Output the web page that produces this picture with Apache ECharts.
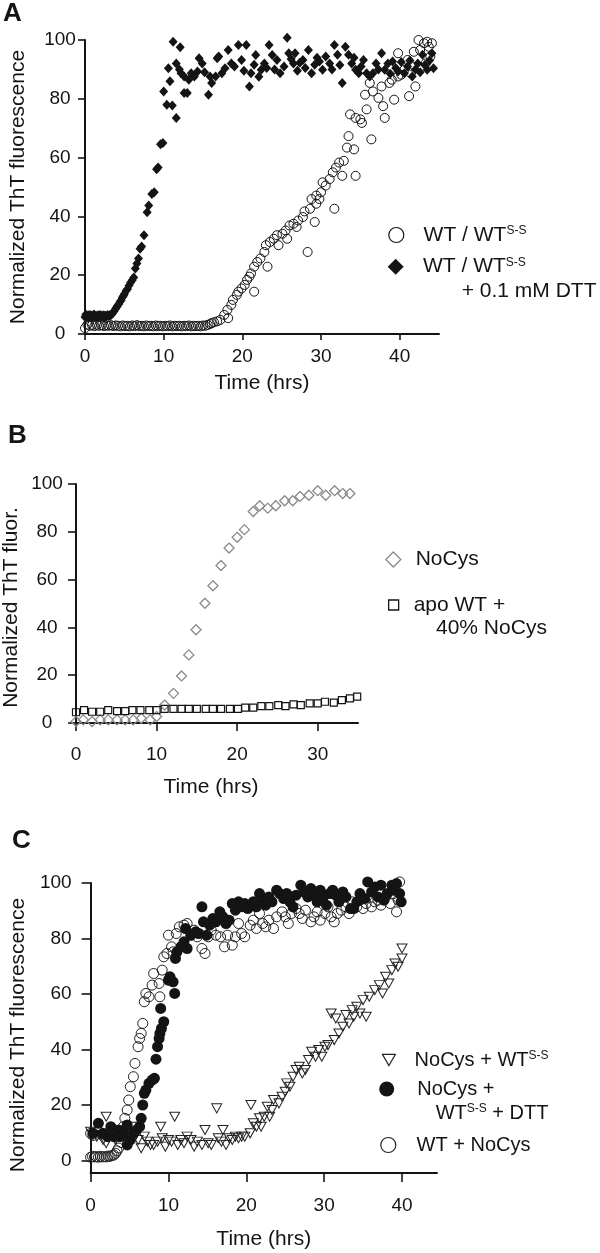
<!DOCTYPE html>
<html><head><meta charset="utf-8">
<script src="https://cdn.jsdelivr.net/npm/echarts@6/dist/echarts.min.js"></script>
<style>html,body{margin:0;padding:0;background:#fff}#c{width:600px;height:1253px}</style>
</head><body><div id="c"></div>
<script>
// ---------- tick labels ----------
const yTicks = [0, 20, 40, 60, 80, 100];
const xTicksA = [0, 10, 20, 30, 40];
const xTicksB = [0, 10, 20, 30];
const xTicksC = [0, 10, 20, 30, 40];

// ---------- Panel A: WT / WT(S-S) + 0.1 mM DTT (filled diamonds) ----------
const aDtt = [
 [0,5.8],[0.1,6.6],[0.25,5.6],[0.4,6.4],[0.5,5.9],[0.65,6.5],[0.75,5.7],[0.9,6.3],[1.0,5.8],[1.15,6.6],
 [1.25,5.9],[1.4,6.2],[1.5,5.7],[1.65,6.4],[1.75,5.9],[1.9,6.5],[2.0,5.8],[2.15,6.3],[2.25,5.9],[2.4,6.4],
 [2.5,5.8],[2.65,6.2],[2.75,6.0],[2.9,6.5],[3.0,6.1],[3.15,6.4],[3.25,6.3],[3.4,6.8],[3.5,7.0],
 [3.7,7.7],[3.85,8.4],[4.0,9.0],[4.1,9.5],[4.3,10.2],[4.45,11.0],[4.6,11.5],[4.75,12.4],[4.9,13.0],[5.0,13.6],
 [5.2,14.6],[5.4,15.3],[5.6,16.5],[5.8,17.5],[6.0,18.3],[6.2,19.2],[6.4,22.3],[6.6,24.0],[6.8,25.7],[7.0,29.0],
 [7.2,29.8],[7.5,33.6],[7.9,41.4],[8.1,43.7],[8.5,47.6],[8.8,48.2],[9.1,56],[9.3,56.6],[9.6,64.5],[9.9,65],
 [10.0,82.5],[10.4,78],[10.6,90.4],[10.8,86],[11.1,77.7],[11.2,99.4],[11.6,73.5],[11.6,92],[12.0,90],[12.1,97.5],
 [12.2,88.7],[12.6,82],[12.6,87.6],[13.0,82],[13.2,86.5],[13.5,88.7],[13.9,87.6],[14.3,89.3],[14.5,93.8],[14.9,92],
 [15.2,89],[15.7,81.4],[15.9,87.6],[16.1,85.4],[16.6,87.6],[16.8,93.8],[17.0,94.4],[17.4,88.7],[17.8,90.4],[18.2,96.6],
 [18.6,92],[19.0,91],[19.5,98.3],[19.9,93.2],[20.2,89.5],[20.5,98.3],[20.9,84.2],[21.1,88.7],[21.5,91.6],[21.7,94.9],
 [22.1,87.5],[22.4,89.9],[22.8,92],[23.1,90.5],[23.4,98.3],[23.8,94.9],[24.1,90],[24.4,93.2],[24.8,88.7],[25.3,91],
 [25.7,100.8],[25.9,95.5],[26.2,93.5],[26.5,92],[26.7,95.5],[27.0,89.5],[27.3,92.3],[27.7,93.2],[28.0,90.5],[28.4,96.6],
 [28.8,88.7],[29.2,91.6],[29.5,94],[29.8,92.7],[30.2,89.9],[30.6,94.4],[31.1,92],[31.4,90],[31.7,98.3],[32.1,95],
 [32.4,91.5],[32.7,85.4],[33.1,97.7],[33.5,95],[33.9,92],[34.2,94],[34.4,89.9],[34.8,88.7],[35.1,91],[35.4,93.2],
 [35.8,88.7],[36.2,87.6],[36.6,88.7],[37.0,92],[37.3,90],[37.7,95.5],[38.1,89.9],[38.5,92],[38.8,88.5],[39.1,92.7],
 [39.5,90.5],[39.8,89.3],[40.2,92.5],[40.6,88.7],[41.0,91],[41.3,93],[41.6,87.6],[42.0,90],[42.3,92],[42.6,89],
 [42.9,95],[43.2,91.5],[43.5,89.9],[43.8,93],[44.1,95.5],[44.3,90.4]
];
// ---------- Panel A: WT / WT(S-S) (open circles) ----------
const aWt = [
 [0,2.0],[0.3,3.2],[0.6,2.8],[0.9,3.0],[1.2,2.7],[1.5,3.1],[1.8,2.8],[2.1,3.0],[2.4,2.7],[2.7,2.9],
 [3.0,2.8],[3.3,3.0],[3.6,2.7],[3.9,2.9],[4.2,2.8],[4.5,2.6],[4.8,2.9],[5.1,2.7],[5.4,2.8],[5.7,2.6],
 [6.0,2.9],[6.3,2.7],[6.6,3.0],[6.9,2.7],[7.2,2.8],[7.5,2.6],[7.8,2.9],[8.1,2.7],[8.4,2.8],[8.7,2.6],
 [9.0,2.9],[9.3,2.7],[9.6,2.8],[9.9,2.6],[10.2,2.8],[10.5,2.7],[10.8,2.9],[11.1,2.6],[11.4,2.8],[11.7,2.7],
 [12.0,2.8],[12.3,2.6],[12.6,2.8],[12.9,2.7],[13.2,2.9],[13.5,2.6],[13.8,2.8],[14.1,2.7],[14.4,2.8],[14.7,2.6],
 [15.0,2.9],[15.3,2.8],[15.6,3.1],[15.9,3.4],
 [16.1,3.7],[16.4,4.0],[16.8,4.3],[17.2,4.8],[17.7,6.5],[18.2,5.4],[18.1,8.2],[18.6,9.9],[18.8,11.6],[19.3,13.3],
 [19.5,14.4],[19.9,15.5],[20.3,16.7],[20.6,18.4],[20.9,19.5],[21.5,14.4],[21.1,20.6],[21.5,22.9],[21.9,24.5],[22.3,25.7],
 [23.2,22.9],[22.8,27.9],[23.0,30.2],[23.5,31.3],[24.0,32.4],[24.6,30.2],[24.4,33.6],[25.1,34.1],[25.7,32.4],[25.5,35.2],
 [26.0,36.9],[26.5,37.5],[26.9,36.4],[27.1,38.6],[27.7,39.8],[28.3,27.9],[27.9,41.7],[28.6,42.6],[29.2,38.1],[28.8,45.9],
 [29.4,47.1],[29.8,45.9],[30.0,48.2],[29.4,44.3],[30.2,51.6],[30.6,50.5],[31.1,52.7],[31.7,42.6],[31.5,55],[31.9,56.6],
 [32.3,58.3],[32.7,53.8],[32.9,58.9],[33.3,63.4],[33.5,67.3],[34.2,62.8],[34.4,53.8],[33.7,74.7],[34.4,73.5],[35.0,73],
 [35.2,71.8],[35.8,76.4],[35.6,81.4],[36.2,85.4],[36.4,66.2],[36.6,82.5],[37.3,80.3],[37.7,84.2],[37.9,77.5],[38.1,73.5],
 [38.7,85.4],[39.0,86.5],[39.3,79.7],[39.8,95.5],[39.8,87.6],[40.2,88.2],[40.6,89.9],[41.0,93.2],[41.2,80.9],[41.4,88.7],
 [41.6,91],[41.8,96],[42.0,84.2],[42.4,100],[42.6,96.6],[43.1,98.9],[43.3,92],[43.5,99.4],[43.7,97.7],[43.9,94.4],[44.1,98.9]
];

// ---------- Panel B ----------
const bNoCys = [
 [0,0.6],[0.9,1.3],[2.0,0.6],[3.0,1.3],[4.0,1.3],[5.1,1.3],[6.1,1.3],[7.1,1.3],[8.1,2.0],[9.2,1.3],
 [10.0,2.7],[11.0,7.5],[12.1,12.4],[13.1,19.7],[14.0,28.5],[14.9,39],[16.0,50.1],[17.0,57.4],[18.0,65.9],[19.0,73.2],
 [20.0,77.7],[20.9,80.9],[22.0,88.5],[22.8,90.9],[23.8,89.9],[24.8,90.9],[25.9,93],[26.9,93],[27.8,94.8],[28.9,95.3],
 [30.0,97.2],[31.0,95.3],[32.1,97.2],[33.1,96],[34.0,96]
];
const bApo = [
 [0,4.5],[1.0,5.4],[2.0,4.7],[3.0,4.7],[4.0,5.4],[5.1,5.0],[6.1,5.0],[7.0,5.4],[8.0,5.4],[9.1,5.4],
 [10.0,5.4],[11.0,5.9],[12.1,5.9],[13.1,5.9],[14.0,5.9],[15.0,5.9],[16.1,5.9],[17.0,5.9],[18.0,5.9],[19.1,5.9],
 [20.1,5.9],[21.0,6.4],[22.0,6.4],[23.0,7.1],[24.0,7.1],[25.1,7.5],[26.0,7.1],[27.0,7.8],[27.9,7.5],[29.0,8.2],
 [30.0,8.2],[30.9,8.9],[32.0,8.5],[33.0,9.6],[34.0,10.3],[34.9,11.0]
];

// ---------- Panel C ----------
const cNoCysSS = [
 [0,10.4],[0.3,9.2],[0.8,8.6],[1.2,9.2],[1.6,7.4],[2.0,15.8],[2.0,6.2],[2.4,8.6],[2.8,9.8],[3.2,7.4],
 [3.6,9.2],[4.0,9.8],[4.4,9.8],[4.9,9.8],[5.3,12.2],[5.7,8.6],[6.1,7.4],[6.5,4.4],[6.9,8.6],[7.3,6.8],
 [7.7,5.6],[8.1,5.6],[8.6,6.8],[9.0,12.2],[9.2,8.0],[9.6,5.0],[10.0,7.4],[10.4,6.8],[10.8,15.8],[11.2,5.6],
 [11.6,7.4],[12.0,6.2],[12.4,8.6],[12.9,7.4],[13.3,5.0],[13.7,6.8],[14.3,5.6],[14.7,11],[15.1,6.2],[15.5,5.6],
 [16.2,18.8],[16.4,8.0],[16.8,6.8],[17.0,11],[17.4,5.6],[17.8,8.0],[18.2,7.4],[18.6,8.6],[19.0,8.0],[19.4,8.6],
 [19.8,8.6],[20.5,9.8],[20.6,20],[20.9,13.4],[21.3,12.2],[21.7,15.2],[21.9,12.2],[22.3,15.8],[22.7,19.4],[23.0,15.8],
 [23.3,18.2],[23.5,21.8],[24.2,20.6],[24.6,23],[25.0,24.8],[25.2,27.8],[25.6,26.6],[26.0,30.2],[26.4,32.6],[26.8,33.8],
 [27.2,31.4],[27.6,32.6],[28.0,36.2],[28.4,39.2],[28.9,37.4],[29.3,39.8],[29.7,37.4],[30.1,41],[30.5,41.6],[30.9,53],
 [31.3,43.4],[31.5,51.2],[31.9,45.8],[32.4,48.2],[32.8,52.4],[33.2,49.4],[33.6,54.2],[33.8,51.8],[34.2,55.4],[34.6,53],
 [35.0,57.8],[35.4,51.8],[35.8,59],[36.5,61.4],[37.1,63.2],[37.5,60.2],[37.9,66.2],[38.3,63.8],[38.7,68.6],[39.1,71],
 [39.5,69.8],[40.0,76.4],[40.0,72.8]
];
const cDtt = [
 [0.3,9.8],[1.0,13.4],[1.6,9.8],[2.2,8.6],[2.6,12.2],[3.0,8.6],[3.6,11.0],[3.8,8.6],[4.2,9.8],[4.7,5.6],
 [4.7,12.8],[5.1,7.4],[5.5,9.8],[5.9,11.0],[6.3,12.2],[6.5,15.2],[6.7,20.0],[6.9,24.2],[7.1,25.4],[7.5,27.8],
 [7.9,29],[8.2,29.6],[8.4,36.5],[8.6,41],[8.8,44],[8.9,45.8],[9.1,47.6],[9.4,50],[9.0,54.8],[10.0,65],
 [10.2,66.2],[10.6,64.4],[10.8,60.2],[10.9,72.8],[11.1,75.2],[11.6,77],[12.0,78.8],[12.4,76.4],[12.2,83.6],[12.9,81.2],
 [13.5,82.4],[13.9,81.8],[14.3,91.4],[14.5,86],[14.9,81.2],[15.3,84.8],[15.7,87.2],[16.1,86],[16.6,89.6],[17.0,87.8],
 [17.4,85.4],[17.8,86.6],[18.2,92.6],[18.6,90.2],[19.0,93.2],[19.4,91.4],[19.8,92.6],[20.2,90.8],[20.9,93.2],[21.3,91.4],
 [21.7,96.2],[22.1,93.2],[22.5,92],[22.9,95],[23.3,93.2],[23.9,97.4],[24.3,96.2],[24.8,94.4],[25.2,96.2],[25.6,93.2],
 [26.0,91.4],[26.4,95.6],[27.0,99.2],[27.4,96.8],[27.9,95],[28.3,98],[28.7,96.2],[29.1,93.2],[29.5,97.4],[29.9,95],
 [30.3,92],[30.7,96.2],[31.1,97.4],[31.5,95.6],[31.9,93.2],[32.4,96.8],[32.8,95],[33.4,90.8],[33.8,90.8],[34.2,93.2],
 [34.6,96.2],[35.2,94.4],[35.6,100.4],[36.1,96.8],[36.5,98.6],[36.9,95],[37.3,99.2],[37.7,93.8],[38.1,96.2],[38.7,99.2],
 [38.9,97.4],[39.3,99.8],[39.7,96.2],[39.9,93.2]
];
const cWtNoCys = [
 [0,1.2],[0.25,1.5],[0.5,1.3],[0.75,1.4],[1.0,1.2],[1.25,1.5],[1.5,1.3],[1.75,1.4],[2.0,1.3],[2.25,1.6],
 [2.5,1.5],[2.75,1.8],[3.0,2.0],[3.2,2.6],[3.4,3.5],[3.6,4.5],[3.9,6.5],[4.1,9],[0,9.8],[0.3,9.0],
 [4.2,12.2],[4.4,15.2],[4.7,18.2],[4.9,21.8],[5.1,26.6],[5.5,30.2],[5.7,35],[6.1,41],[6.3,44],[6.5,45.8],
 [6.7,49.4],[6.9,57.2],[7.1,60.2],[7.5,59],[7.9,63.2],[8.1,67.4],[8.9,59],[8.8,63.8],[9.2,68.6],[9.4,73.4],
 [9.8,74.6],[10.0,81.2],[10.4,77],[10.6,75.2],[11.0,81.8],[11.4,84.2],[12.0,84.8],[12.4,85.4],[12.9,81.2],[13.3,83],
 [13.7,80.6],[14.3,76.4],[14.7,74.6],[15.1,80.6],[15.5,83],[16.1,81.2],[16.7,80.6],[17.2,77],[17.6,81.2],[18.2,77.6],
 [18.6,80.6],[19.0,85.4],[19.4,81.8],[19.8,80.6],[20.5,84.8],[20.9,86.6],[21.3,83.6],[21.7,89],[22.1,85.4],[22.5,84.2],
 [22.9,86.6],[23.5,83.6],[23.9,87.8],[24.6,89.6],[25.0,87.8],[25.4,85.4],[25.8,89],[26.4,90.8],[26.8,89],[27.2,87.2],
 [27.6,90.2],[28.3,86],[28.7,87.8],[29.1,89.6],[29.5,86.6],[30.1,89],[30.5,91.4],[30.9,87.8],[31.3,86],[31.7,89],
 [32.2,90.2],[32.8,91.4],[33.2,89],[33.6,93.2],[34.2,91.4],[34.6,93.8],[35.0,90.8],[35.4,92.6],[36.1,91.4],[36.5,93.2],
 [36.9,93.8],[37.3,92],[37.9,95],[38.5,92.6],[38.9,96.2],[39.3,89.6],[39.5,93.8],[39.7,100.4]
];

// ---------- rendering ----------
const FONT = '"Liberation Sans", Arial, Helvetica, sans-serif';
const INK = '#141414';
const CLEAR = 'rgba(255,255,255,0)';
const TRI_DOWN = 'path://M0,0L10,0L5,8.7Z';

function xAx(gi, max, ticks, margin, nameGap, tickLen, namePad) {
  return {
    type: 'value', gridIndex: gi, min: 0, max: max,
    name: 'Time (hrs)', nameLocation: 'middle', nameGap: nameGap,
    nameTextStyle: { fontSize: 21, color: INK, fontFamily: FONT, padding: namePad || 0 },
    axisLine: { show: true, onZero: false, lineStyle: { color: INK, width: 2 } },
    axisTick: { show: true, length: tickLen, lineStyle: { color: INK, width: 1.6 }, customValues: ticks },
    axisLabel: { fontSize: 19, color: INK, fontFamily: FONT, margin: margin, customValues: ticks },
    splitLine: { show: false }
  };
}
function yAx(gi, min, title, align, margin, nameGap, tickLen, namePad) {
  return {
    type: 'value', gridIndex: gi, min: min, max: 100,
    name: title, nameLocation: 'middle', nameGap: nameGap,
    nameTextStyle: { fontSize: 21, color: INK, fontFamily: FONT, padding: namePad || 0 },
    axisLine: { show: true, onZero: false, lineStyle: { color: INK, width: 2 } },
    axisTick: { show: true, length: tickLen, lineStyle: { color: INK, width: 1.6 }, customValues: yTicks },
    axisLabel: { fontSize: 19, color: INK, fontFamily: FONT, margin: margin, align: align, customValues: yTicks },
    splitLine: { show: false }
  };
}
const supRich = {
  sup: { fontSize: 12, verticalAlign: 'top', fontFamily: FONT, color: INK, lineHeight: 14 }
};
function leg(name, label, cx, cy, iw, ih, textX, fs, border) {
  const left = cx - iw / 2;
  const top = cy - Math.max(ih, fs) / 2;
  const pad = textX - (left + iw + 5);
  return {
    data: [name], left: left, top: top, padding: 0, itemGap: 0,
    itemWidth: iw, itemHeight: ih, selectedMode: false,
    itemStyle: { borderWidth: border, opacity: 1 },
    formatter: function () { return label; },
    textStyle: { fontSize: fs, color: INK, fontFamily: FONT, padding: [0, 0, 0, pad], rich: supRich }
  };
}
function txt(x, y, text, fs, bold) {
  return {
    type: 'text', x: x, y: y, silent: true,
    style: { text: text, fill: INK, font: (bold ? 'bold ' : '') + fs + 'px ' + FONT,
             verticalAlign: 'middle', align: 'left',
             rich: { sup: { fontSize: 12, verticalAlign: 'top', fontFamily: FONT, fill: INK, lineHeight: 14 },
                     n: { fontSize: fs, fontFamily: FONT, fill: INK } } }
  };
}

const chart = echarts.init(document.getElementById('c'), null, { renderer: 'canvas' });
chart.setOption({
  animation: false,
  backgroundColor: '#fff',
  grid: [
    { left: 77, top: 40, width: 362, height: 294 },
    { left: 76, top: 484, width: 282, height: 239 },
    { left: 76, top: 883, width: 361, height: 290 }
  ],
  xAxis: [
    xAx(0, 45, xTicksA, 13, 39, 6),
    xAx(1, 35, xTicksB, 22, 54, 8, [0, 12, 0, 0]),
    xAx(2, 44.5, xTicksC, 23, 56, 9)
  ],
  yAxis: [
    yAx(0, 0, 'Normalized ThT fluorescence', 'center', 25, 56, 7),
    yAx(1, 0, 'Normalized ThT fluor.', 'center', 29, 54, 8, [0, 8, 0, 0]),
    yAx(2, -4.5, 'Normalized ThT fluorescence', 'right', 19, 53, 9, [0, 14, 0, 0])
  ],
  legend: [
    leg('A_WT', 'WT / WT{sup|S-S}', 395.7, 235, 15, 15, 423, 21, 1.2),
    leg('A_DTT', 'WT / WT{sup|S-S}', 395.7, 266.7, 16, 16, 423, 21, 0),
    leg('B_NoCys', 'NoCys', 392.7, 559.5, 15, 15, 415, 21, 1.3),
    leg('B_apo', 'apo WT +', 393, 605, 10, 10, 413, 21, 1.3),
    leg('C_SS', 'NoCys + WT{sup|S-S}', 388.3, 1060, 13, 12, 414, 20, 1.2),
    leg('C_DTT', 'NoCys +', 386.7, 1089, 15, 15, 417.3, 20, 0),
    leg('C_WT', 'WT + NoCys', 387.7, 1145, 15, 15, 416, 20, 1.2)
  ],
  graphic: [
    txt(3, 14, 'A', 26, true),
    txt(8, 436, 'B', 26, true),
    txt(12, 841, 'C', 26, true),
    txt(461.7, 291, '+ 0.1 mM DTT', 21, false),
    txt(436, 628, '40% NoCys', 21, false),
    txt(435.7, 1113, '{n|WT}{sup|S-S}{n| + DTT}', 20, false)
  ],
  series: [
    { name: 'A_DTT', type: 'scatter', xAxisIndex: 0, yAxisIndex: 0, data: aDtt, clip: false,
      symbol: 'diamond', symbolSize: [9, 10], itemStyle: { color: INK, borderWidth: 0, opacity: 1 } },
    { name: 'A_WT', type: 'scatter', xAxisIndex: 0, yAxisIndex: 0, data: aWt, clip: false,
      symbol: 'circle', symbolSize: 9, itemStyle: { color: CLEAR, borderColor: INK, borderWidth: 1, opacity: 1 } },
    { name: 'B_NoCys', type: 'scatter', xAxisIndex: 1, yAxisIndex: 1, data: bNoCys, clip: false,
      symbol: 'diamond', symbolSize: 10, itemStyle: { color: CLEAR, borderColor: '#8a8a8a', borderWidth: 1.3, opacity: 1 } },
    { name: 'B_apo', type: 'scatter', xAxisIndex: 1, yAxisIndex: 1, data: bApo, clip: false,
      symbol: 'rect', symbolSize: 7, itemStyle: { color: CLEAR, borderColor: INK, borderWidth: 1.2, opacity: 1 } },
    { name: 'C_WT', type: 'scatter', xAxisIndex: 2, yAxisIndex: 2, data: cWtNoCys, clip: false,
      symbol: 'circle', symbolSize: 10, itemStyle: { color: CLEAR, borderColor: '#222', borderWidth: 1, opacity: 1 } },
    { name: 'C_SS', type: 'scatter', xAxisIndex: 2, yAxisIndex: 2, data: cNoCysSS, clip: false,
      symbol: TRI_DOWN, symbolSize: [10, 9], itemStyle: { color: CLEAR, borderColor: '#222', borderWidth: 1, opacity: 1 } },
    { name: 'C_DTT', type: 'scatter', xAxisIndex: 2, yAxisIndex: 2, data: cDtt, clip: false,
      symbol: 'circle', symbolSize: 11, itemStyle: { color: INK, borderWidth: 0, opacity: 1 } }
  ]
});
</script>
</body></html>
